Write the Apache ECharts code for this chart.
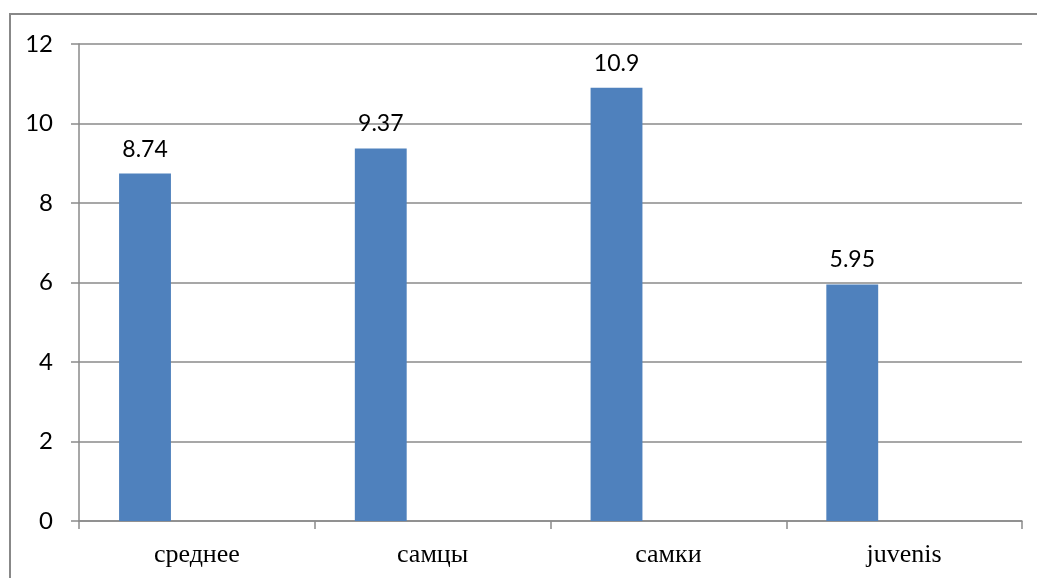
<!DOCTYPE html>
<html>
<head>
<meta charset="utf-8">
<script src="https://cdn.jsdelivr.net/npm/echarts@6/dist/echarts.min.js"></script>
<style>
  html, body { margin: 0; padding: 0; background: #fff; }
  #chart { width: 1037px; height: 578px; }
</style>
</head>
<body>
<div id="chart"></div>
<script>
// Categories along the x axis
const categories = ['среднее', 'самцы', 'самки', 'juvenis'];
// Measured values (first series); the other two columns are empty
const values = [8.74, 9.37, 10.9, 5.95];
const emptyColumn = [null, null, null, null];
// Y axis range
const yMin = 0, yMax = 12, yStep = 2;

const gridColor = '#8a8a8a';
const sansFont = 'Lato, "Open Sans", sans-serif';
const chart = echarts.init(document.getElementById('chart'));
chart.setOption({
  animation: false,
  backgroundColor: '#ffffff',
  graphic: [{
    // outer chart-area frame (left and top edges)
    type: 'polyline',
    shape: { points: [[10, 700], [10, 14], [1200, 14]] },
    style: { fill: 'none', stroke: '#888888', lineWidth: 2 },
    silent: true
  }],
  grid: { left: 79, right: 15, top: 44, bottom: 57 },
  xAxis: {
    type: 'category',
    data: categories,
    boundaryGap: true,
    axisLine: { show: true, lineStyle: { color: gridColor, width: 1.5 } },
    axisTick: { show: true, length: 8, inside: false, lineStyle: { color: gridColor, width: 1.5 } },
    axisLabel: {
      margin: 21,
      fontFamily: '"Liberation Serif", "Times New Roman", serif',
      fontSize: 26,
      color: '#000'
    }
  },
  yAxis: {
    type: 'value',
    min: yMin, max: yMax, interval: yStep,
    axisLine: { show: true, lineStyle: { color: gridColor, width: 1.5 } },
    axisTick: { show: true, length: 8, lineStyle: { color: gridColor, width: 1.5 } },
    splitLine: { show: true, lineStyle: { color: gridColor, width: 1.5 } },
    axisLabel: {
      margin: 26,
      fontFamily: sansFont,
      fontSize: 24,
      color: '#000'
    }
  },
  series: [
    {
      type: 'bar',
      data: values,
      barGap: '0%',
      barCategoryGap: '34%',
      itemStyle: { color: '#4F81BD' },
      label: {
        show: true,
        position: 'top',
        distance: 13,
        fontFamily: sansFont,
        fontSize: 23,
        color: '#000'
      }
    },
    { type: 'bar', data: emptyColumn, barGap: '0%', barCategoryGap: '34%' },
    { type: 'bar', data: emptyColumn, barGap: '0%', barCategoryGap: '34%' }
  ]
});
</script>
</body>
</html>
